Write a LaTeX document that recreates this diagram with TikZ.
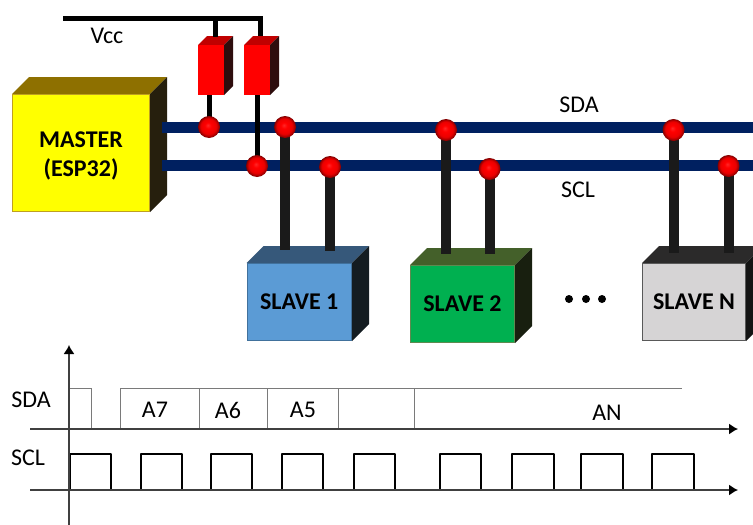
\documentclass[tikz,border=0pt]{standalone}
\usepackage{fontspec}
\setmainfont{Carlito}
\usetikzlibrary{arrows.meta,calc}
\definecolor{busc}{HTML}{002060}
\definecolor{wirec}{HTML}{1A1A1A}
\definecolor{redF}{HTML}{FF0000}\definecolor{redB}{HTML}{FF0000}\definecolor{redT}{HTML}{C00000}\definecolor{redS}{HTML}{2E0D0D}
\definecolor{masF}{HTML}{FFFF00}\definecolor{masB}{HTML}{BFA020}\definecolor{masT}{HTML}{8E7000}\definecolor{masS}{HTML}{261F0D}
\definecolor{oneF}{HTML}{5B9BD5}\definecolor{oneB}{HTML}{41719C}\definecolor{oneT}{HTML}{36587A}\definecolor{oneS}{HTML}{141C21}
\definecolor{twoF}{HTML}{00B050}\definecolor{twoB}{HTML}{5E8A50}\definecolor{twoT}{HTML}{44602A}\definecolor{twoS}{HTML}{181F0F}
\definecolor{graF}{HTML}{D6D4D5}\definecolor{graB}{HTML}{595959}\definecolor{graT}{HTML}{2B2A2A}\definecolor{graS}{HTML}{141414}
\pgfdeclareradialshading{redball}{\pgfpoint{-0.1cm}{0.15cm}}{%
  color(0cm)=(red!85!white);
  color(0.25cm)=(red);
  color(0.62cm)=(red!92!black);
  color(0.85cm)=(red!55!black);
  color(1cm)=(red!35!black)}
\tikzset{
  lbl/.style={font=\fontsize{24}{28}\selectfont,inner sep=0pt},
  bus/.style={busc,line width=11pt},
  wire/.style={wirec,line width=10pt},
  vcc/.style={black,line width=5pt},
  ball/.style={circle,minimum size=22pt,inner sep=0pt,shading=redball},
  axis/.style={draw=black!75,line width=1.3pt,-{Latex[length=9pt,width=11pt,black]}},
  sda/.style={draw=black!52,line width=1pt},
  scl/.style={draw=black,line width=2pt,line join=round},
  dot/.style={circle,fill=black,minimum size=8pt,inner sep=0pt},
  face/.style={rectangle,inner sep=0pt,line width=1pt,align=center},
  big/.style={font=\fontsize{24}{28}\selectfont\bfseries}
}
% #1 name, #2 x1, #3 y1, #4 x2, #5 y2, #6 depth, #7 colour prefix, #8 text
\newcommand{\cubebox}[8]{%
  \fill[#7T] (#2,#3) -- ++(#6,-#6) -- (#4+#6,#3-#6) -- (#4,#3) -- cycle;
  \fill[#7S] (#4,#3) -- ++(#6,-#6) -- (#4+#6,#5-#6) -- (#4,#5) -- cycle;
  \node[face,big,draw=#7B,fill=#7F,minimum width={(#4-#2)*1pt-1pt},minimum height={(#5-#3)*1pt-1pt}] (#1) at ({(#2+#4)/2},{(#3+#5)/2}) {#8};
}
\newcommand{\pulse}[2]{\draw[scl] (#1,490) -- (#1,454) -- (#2,454) -- (#2,490);}
\begin{document}
\begin{tikzpicture}[x=1pt,y=-1pt]
\clip (0,0) rectangle (753,525);
\fill[white] (0,0) rectangle (753,525);

% supply rail and pull-up resistors
\coordinate (vs) at (63,18);
\coordinate (ve) at (263,18);
\draw[vcc] (vs) -- (ve);
\cubebox{r1}{198}{45}{224}{95}{9}{red}{}
\cubebox{r2}{244}{45}{270}{95}{9}{red}{}
\coordinate (t1) at (215,37);
\coordinate (t2) at (260.5,36);
\draw[vcc] (t1 |- ve) -- (t1);
\draw[vcc] (t2 |- ve) -- (t2);
\node[lbl] (vcct) at (107,36) {Vcc};

% master
\cubebox{m}{12}{94}{150}{212}{17}{mas}{\rule{0pt}{22pt}MASTER\\[1pt](ESP32)}

% buses
\coordinate (sdaS) at (162,127);
\coordinate (sdaE) at (753,127);
\coordinate (sclS) at (162,165);
\coordinate (sclE) at (753,165);
\draw[bus] (sdaS) -- (sdaE);
\draw[bus] (sclS) -- (sclE);
\node[lbl] (sdat) at (579,105) {SDA};
\node[lbl] (sclt) at (578,190) {SCL};

% slaves
\cubebox{s1}{246.5}{263}{352}{341}{17}{one}{SLAVE 1}
\cubebox{s2}{410}{265}{515}{343}{17}{two}{SLAVE 2}
\cubebox{s3}{642}{263}{746}{341}{17}{gra}{SLAVE N}
\node[dot] (d1) at (569,299) {};
\node[dot] (d2) at (586,299) {};
\node[dot] (d3) at (602,299) {};

% junction balls
\coordinate (a1) at (209,127);
\coordinate (a2) at (257,166);
\coordinate (a3) at (285,127);
\coordinate (a4) at (330,167);
\coordinate (a5) at (446,130);
\coordinate (a6) at (489.5,169);
\coordinate (a7) at (673.5,130);
\coordinate (a8) at (728.5,166);
% wires
\draw[black,line width=5pt] (a1 |- r1.south) -- (a1);
\draw[black,line width=5pt] (a2 |- r2.south) -- (a2);
\draw[wire] (a3) -- ($(a3 |- s1.north)+(0,-13)$);
\draw[wire] (a4) -- ($(a4 |- s1.north)+(0,-12)$);
\draw[wire] (a5) -- ($(a5 |- s2.north)+(0,-11)$);
\draw[wire] (a6) -- ($(a6 |- s2.north)+(0,-11)$);
\draw[wire] (a7) -- ($(a7 |- s3.north)+(0,-10)$);
\draw[wire] (a8) -- ($(a8 |- s3.north)+(0,-10)$);
\node[ball] (b1) at (a1) {};
\node[ball] (b2) at (a2) {};
\node[ball] (b3) at (a3) {};
\node[ball] (b4) at (a4) {};
\node[ball] (b5) at (a5) {};
\node[ball] (b6) at (a6) {};
\node[ball] (b7) at (a7) {};
\node[ball] (b8) at (a8) {};

% timing diagram
\draw[sda] (69,388) -- (91,388) -- (91,429);
\draw[sda] (120,429) -- (120,388) -- (682,388);
\draw[sda] (199,388) -- (199,429);
\draw[sda] (267,388) -- (267,429);
\draw[sda] (338,388) -- (338,429);
\draw[sda] (414,388) -- (414,429);
\pulse{69.5}{111}
\pulse{141}{182}
\pulse{211}{252}
\pulse{282}{323}
\pulse{354}{395}
\pulse{440}{481}
\pulse{511.5}{554}
\pulse{581}{623}
\pulse{652}{694}
\coordinate (xa) at (30,429);
\coordinate (xb) at (738,429);
\coordinate (xc) at (30,490);
\coordinate (xd) at (738,490);
\coordinate (ya) at (69,525);
\coordinate (yb) at (69,345);
\draw[axis] (xa) -- (xb);
\draw[axis] (xc) -- (xd);
\draw[axis] (ya) -- (yb);
\node[lbl] (l1) at (31,400) {SDA};
\node[lbl] (l2) at (28,458) {SCL};
\node[lbl] (l3) at (155,410) {A7};
\node[lbl] (l4) at (228,410) {A6};
\node[lbl] (l5) at (303,410) {A5};
\node[lbl] (l6) at (607,413) {AN};
\end{tikzpicture}
\end{document}
